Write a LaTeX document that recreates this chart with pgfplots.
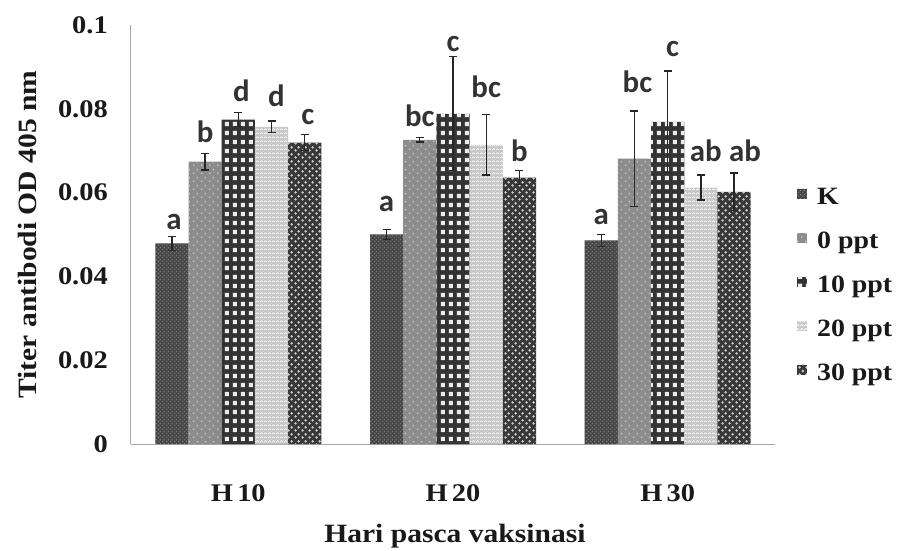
\documentclass[border=0pt]{standalone}
\usepackage{fontspec}
\setmainfont{Liberation Serif}[FakeStretch=1.12]
\newfontfamily\letterfont{Carlito}
\usepackage{pgfplots}
\usepackage{pgfplotstable}
\pgfplotsset{compat=1.18}
\usetikzlibrary{patterns}

% bar textures
\pgfdeclarepatternformonly{kdots}{\pgfqpoint{0bp}{0bp}}{\pgfqpoint{3.5bp}{3.5bp}}{\pgfqpoint{3.5bp}{3.5bp}}{%
  \pgfpathcircle{\pgfqpoint{0.9bp}{0.9bp}}{0.7bp}\pgfpathcircle{\pgfqpoint{2.6bp}{2.6bp}}{0.7bp}\pgfusepath{fill}}
\pgfdeclarepatternformonly{sparsedots}{\pgfqpoint{0bp}{0bp}}{\pgfqpoint{8bp}{8bp}}{\pgfqpoint{8bp}{8bp}}{%
  \pgfpathcircle{\pgfqpoint{2bp}{2bp}}{1bp}\pgfpathcircle{\pgfqpoint{6bp}{6bp}}{1bp}\pgfusepath{fill}}
\pgfdeclarepatternformonly{sqgrid}{\pgfqpoint{0bp}{0bp}}{\pgfqpoint{8.3bp}{9bp}}{\pgfqpoint{8.3bp}{9bp}}{%
  \pgfpathrectangle{\pgfqpoint{1.9bp}{2.2bp}}{\pgfqpoint{4.5bp}{4.6bp}}\pgfusepath{fill}}
\pgfdeclarepatternformonly{waves}{\pgfqpoint{0bp}{0bp}}{\pgfqpoint{4bp}{4bp}}{\pgfqpoint{4bp}{4bp}}{%
  \pgfsetlinewidth{0.7bp}\pgfpathmoveto{\pgfqpoint{0bp}{1bp}}\pgfpathlineto{\pgfqpoint{2bp}{3bp}}\pgfpathlineto{\pgfqpoint{4bp}{1bp}}\pgfusepath{stroke}}
\pgfdeclarepatternformonly{hexdots}{\pgfqpoint{0bp}{0bp}}{\pgfqpoint{7bp}{7bp}}{\pgfqpoint{7bp}{7bp}}{%
  \pgfpathcircle{\pgfqpoint{1.75bp}{1.75bp}}{1.5bp}\pgfpathcircle{\pgfqpoint{5.25bp}{5.25bp}}{1.5bp}\pgfusepath{fill}}

% x: day, y: mean titer, e: error, lab: letter, ly: letter baseline, dx: letter offset (bp)
\pgfplotstableread{
x y e lab ly dx
0 0.0479 0.0017 a 0.0512 2
1 0.0500 0.0012 a 0.0555 0
2 0.0486 0.0014 a 0.0524 0
}\tK
\pgfplotstableread{
x y e lab ly dx
0 0.0674 0.0020 b 0.0719 0
1 0.0726 0.0005 bc 0.0757 0
2 0.0681 0.0114 bc 0.0838 3
}\tA
\pgfplotstableread{
x y e lab ly dx
0 0.0774 0.0017 d 0.0817 3
1 0.0788 0.0136 c 0.0936 0
2 0.0769 0.0121 c 0.0924 5
}\tB
\pgfplotstableread{
x y e lab ly dx
0 0.0757 0.0014 d 0.0805 5
1 0.0714 0.0072 bc 0.0826 0
2 0.0612 0.0030 ab 0.0674 5
}\tC
\pgfplotstableread{
x y e lab ly dx
0 0.0719 0.0019 c 0.0762 3
1 0.0636 0.0017 b 0.0674 0
2 0.0602 0.0045 ab 0.0674 11
}\tD

\pgfplotsset{
  sqlegend/.style={legend image code/.code={\path[##1, draw=none] (0bp,-2bp) rectangle (10bp,8bp); \path (18bp,3bp);}},
  eb/.style={
    /pgfplots/error bars/y dir=both,
    /pgfplots/error bars/y explicit,
    /pgfplots/error bars/error bar style={line width=1.3bp, black!85},
    /pgfplots/error bars/error mark options={rotate=90, mark size=4bp, line width=1.3bp, black!85}},
}

\begin{document}
\begin{tikzpicture}
\useasboundingbox (-131bp,-107bp) rectangle (787bp,444bp);
\begin{axis}[
  at={(0,0)}, anchor=south west,
  scale only axis, width=644bp, height=419bp,
  ybar=0pt, bar width=33.2bp,
  xmin=-0.5, xmax=2.5, ymin=0, ymax=0.1,
  axis lines*=left,
  axis line style={black!35, line width=1bp},
  major tick length=0pt,
  xtick={0,1,2}, xticklabels={H\,10,H\,20,H\,30},
  ytick={0,0.02,0.04,0.06,0.08,0.1},
  yticklabels={0,0.02,0.04,0.06,0.08,0.1},
  scaled y ticks=false,
  tick label style={font=\bfseries\fontsize{25.5}{28}\selectfont, text=black!90, inner sep=0pt},
  yticklabel style={anchor=east, xshift=-23bp},
  xticklabel style={anchor=north, yshift=-40bp},
  ylabel={Titer antibodi OD 405 nm},
  xlabel={Hari pasca vaksinasi},
  label style={font=\bfseries\fontsize{26.5}{30}\selectfont, text=black!90, inner sep=0pt},
  ylabel style={at={(axis description cs:-0.1615,0.5)}, anchor=center},
  xlabel style={at={(axis description cs:0.503,-0.220)}, anchor=center},
  point meta=explicit symbolic,
  nodes near coords,
  visualization depends on={\thisrow{ly}-\thisrow{y} \as \dly},
  visualization depends on={\thisrow{dx} \as \ddx},
  nodes near coords style={font=\letterfont\bfseries\fontsize{31}{33}\selectfont, text=black!80,
    anchor=south, inner sep=0pt, shift={(axis direction cs:0,\dly)}, xshift=\ddx bp},
  legend style={at={(axis description cs:1.034,0.38)}, anchor=west, draw=none, fill=none,
    font=\bfseries\fontsize{25}{28}\selectfont, text=black!90, inner sep=0pt, row sep=22bp,
    cells={anchor=west, inner sep=0pt}},
]
\addplot[draw=none, fill=black!72, postaction={pattern=kdots, pattern color=black!45}, sqlegend, eb]
  table[x=x, y=y, y error=e, meta=lab] {\tK};
\addplot[draw=none, fill=black!45, postaction={pattern=sparsedots, pattern color=white!80!black}, sqlegend, eb]
  table[x=x, y=y, y error=e, meta=lab] {\tA};
\addplot[draw=none, fill=black!80, postaction={pattern=sqgrid, pattern color=white!92!black}, sqlegend, eb]
  table[x=x, y=y, y error=e, meta=lab] {\tB};
\addplot[draw=none, fill=black!22, postaction={pattern=waves, pattern color=white}, sqlegend, eb]
  table[x=x, y=y, y error=e, meta=lab] {\tC};
\addplot[draw=none, fill=black!78, postaction={pattern=hexdots, pattern color=white!80!black}, sqlegend, eb]
  table[x=x, y=y, y error=e, meta=lab] {\tD};
\legend{K,0 ppt,10 ppt,20 ppt,30 ppt}
\end{axis}
\end{tikzpicture}
\end{document}
